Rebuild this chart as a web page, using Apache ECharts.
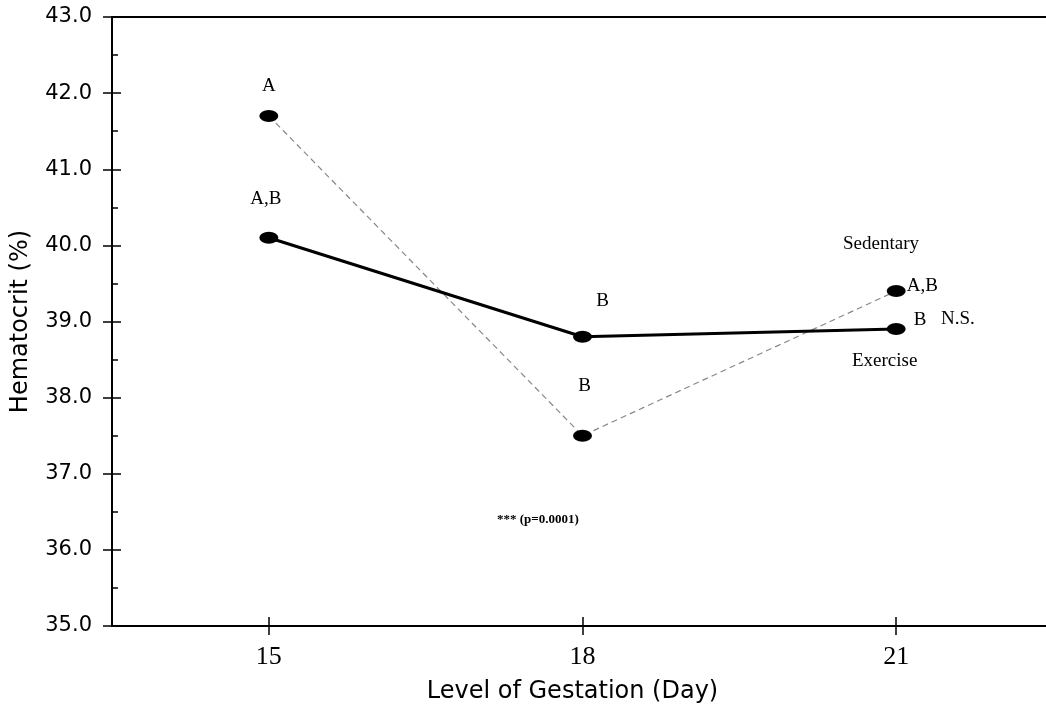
<!DOCTYPE html>
<html>
<head>
<meta charset="utf-8">
<script src="https://cdn.jsdelivr.net/npm/echarts@6/dist/echarts.min.js"></script>
<style>html,body{margin:0;padding:0;background:#fff}#c{width:1046px;height:713px}</style>
</head>
<body>
<div id="c"></div>
<script>
var days = [15, 18, 21];
var sedentary = [41.7, 37.5, 39.4];
var exercise = [40.1, 38.8, 38.9];
var sedentaryLetters = ['A', 'B', 'A,B'];
var exerciseLetters = ['A,B', 'B', 'B'];
var yTicks = [35, 36, 37, 38, 39, 40, 41, 42, 43];

var serif = 'Liberation Serif';
var sans = 'DejaVu Sans';

var sedLabelPos = [
  {position: 'top', distance: 14, offset: [0, 0]},
  {position: 'top', distance: 34, offset: [2, 0]},
  {position: 'right', distance: 1, offset: [0, -5]}
];
var exLabelPos = [
  {position: 'top', distance: 23, offset: [-3, 0]},
  {position: 'top', distance: 20, offset: [20, 0]},
  {position: 'right', distance: 8, offset: [0, -9]}
];

function build(vals, letters, pos) {
  return vals.map(function (v, i) {
    return {
      value: [days[i], v],
      label: Object.assign({show: true, formatter: letters[i], color: '#000', fontFamily: serif, fontSize: 19}, pos[i])
    };
  });
}

var tickStyle = {color: '#000', width: 1.5};

var chart = echarts.init(document.getElementById('c'));
chart.setOption({
  backgroundColor: '#fff',
  animation: false,
  grid: {left: 112, top: 17, width: 941, height: 609, outerBoundsMode: 'none', containLabel: false},
  xAxis: [{
    type: 'value', min: 13.5, max: 22.5, position: 'bottom',
    name: 'Level of Gestation (Day)', nameLocation: 'middle', nameGap: 54,
    nameTextStyle: {fontFamily: sans, fontSize: 24, color: '#000', verticalAlign: 'top', padding: [0, 20, 0, 0]},
    axisLine: {show: true, lineStyle: {color: '#000', width: 2}},
    axisTick: {show: true, inside: false, length: 9, customValues: days, lineStyle: tickStyle},
    axisLabel: {customValues: days, margin: 18, fontFamily: serif, fontSize: 26, color: '#000'},
    splitLine: {show: false}
  }, {
    type: 'value', min: 13.5, max: 22.5, position: 'bottom', offset: 0,
    axisLine: {show: false},
    axisTick: {show: true, inside: true, length: 9, customValues: days, lineStyle: tickStyle},
    axisLabel: {show: false},
    splitLine: {show: false}
  }, {
    type: 'value', min: 13.5, max: 22.5, position: 'top', offset: 0,
    axisLine: {show: true, lineStyle: {color: '#000', width: 2}},
    axisTick: {show: false},
    axisLabel: {show: false},
    splitLine: {show: false}
  }],
  yAxis: [{
    type: 'value', min: 35, max: 43, interval: 1, position: 'left',
    name: 'Hematocrit (%)', nameLocation: 'middle', nameGap: 79,
    nameTextStyle: {fontFamily: sans, fontSize: 24, color: '#000'},
    axisLine: {show: true, lineStyle: {color: '#000', width: 2}},
    axisTick: {show: true, inside: false, length: 9, lineStyle: tickStyle},
    axisLabel: {margin: 20, fontFamily: sans, fontSize: 21, color: '#000',
      formatter: function (v) { return v.toFixed(1); }},
    splitLine: {show: false}
  }, {
    type: 'value', min: 35, max: 43, interval: 1, position: 'left', offset: 0,
    axisLine: {show: false},
    axisTick: {show: true, inside: true, length: 9, lineStyle: tickStyle},
    minorTick: {show: true, splitNumber: 2, length: 6, lineStyle: tickStyle},
    axisLabel: {show: false},
    splitLine: {show: false}
  }],
  series: [{
    name: 'Sedentary', type: 'line',
    data: build(sedentary, sedentaryLetters, sedLabelPos),
    symbol: 'circle', symbolSize: [19, 12],
    itemStyle: {color: '#000'},
    lineStyle: {color: '#888', width: 1.2, type: [6, 4]},
    z: 3
  }, {
    name: 'Exercise', type: 'line',
    data: build(exercise, exerciseLetters, exLabelPos),
    symbol: 'circle', symbolSize: [19, 12],
    itemStyle: {color: '#000'},
    lineStyle: {color: '#000', width: 3},
    z: 4
  }],
  graphic: [
    {type: 'text', left: 843, top: 235, style: {text: 'Sedentary', font: '19px "Liberation Serif"', fill: '#000'}},
    {type: 'text', left: 852, top: 352, style: {text: 'Exercise', font: '19px "Liberation Serif"', fill: '#000'}},
    {type: 'text', left: 941, top: 310, style: {text: 'N.S.', font: '19px "Liberation Serif"', fill: '#000'}},
    {type: 'text', left: 497, top: 513, style: {text: '*** (p=0.0001)', font: 'bold 13px "Liberation Serif"', fill: '#000'}}
  ]
});
</script>
</body>
</html>
